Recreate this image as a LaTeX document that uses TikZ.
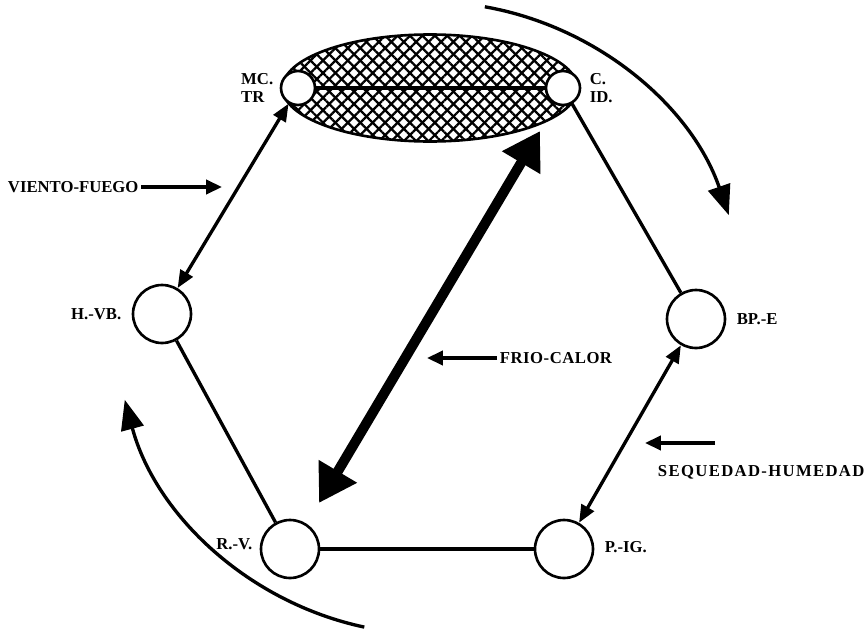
\documentclass[tikz,border=0pt]{standalone}
\usepackage{fontspec}
\setmainfont{Liberation Serif}
\usetikzlibrary{arrows.meta,positioning,shapes.geometric,patterns.meta}

\tikzset{
    station/.style={circle, draw, fill=white, line width=1.5pt, minimum size=1.16cm, inner sep=0pt},
    small station/.style={station, minimum size=0.68cm},
    lbl/.style={font=\bfseries\fontsize{9.5}{9.8}\selectfont, inner sep=1.5pt},
    bond/.style={line width=1.9pt},
    strong bond/.style={line width=2.8pt},
    link/.style={line width=1.9pt, {Triangle[length=10pt,width=8pt]}-{Triangle[length=10pt,width=8pt]}},
    pointer/.style={line width=1.9pt, -{Triangle[length=9pt,width=8pt]}},
    cycle arrow/.style={line width=1.9pt, -{Triangle[length=17pt,width=13pt]}},
    axis arrow/.style={line width=5.7pt, {Triangle[length=21pt,width=24pt]}-{Triangle[length=21pt,width=24pt]}},
    lens/.style={ellipse, draw, line width=1.5pt, minimum width=5.9cm, minimum height=2.14cm,
        preaction={pattern={Lines[angle=45,distance=5pt,line width=1.3pt]}},
        pattern={Lines[angle=-45,distance=5pt,line width=1.3pt]}}
}

\begin{document}
\begin{tikzpicture}[x=0.02cm, y=-0.02cm, line join=round]
            \useasboundingbox (0,0) rectangle (866,632);

            % ==== HATCHED ZONE ====
            \node[lens] (zone) at (430,88) {};

            % ==== STATIONS ====
            \node[small station] (mctr) at (298,88) {};
            \node[small station] (cid) at (563,88) {};
            \node[station] (hvb) at (162,314) {};
            \node[station] (bpe) at (696,319) {};
            \node[station] (rv) at (290,549) {};
            \node[station] (pig) at (564,549) {};
            \coordinate (hub) at (430,318);

            % ==== STATION LABELS ====
            \node[lbl, align=left, left=0.07cm of mctr] (mctrlbl) {MC.\\TR};
            \node[lbl, align=left, right=0.11cm of cid] (cidlbl) {C.\\ID.};
            \node[lbl, left=0.15cm of hvb] (hvblbl) {H.-VB.};
            \node[lbl, right=0.15cm of bpe] (bpelbl) {BP.-E};
            \node[lbl, left=0.09cm of rv, yshift=3pt] (rvlbl) {R.-V.};
            \node[lbl, right=0.15cm of pig, yshift=1pt] (piglbl) {P.-IG.};

            % ==== SIDES ====
            \draw[strong bond] (mctr) -- (cid);
            \draw[bond] (cid) -- (bpe);
            \draw[bond] (hvb) -- (rv);
            \draw[strong bond] (rv) -- (pig);
            \draw[link] (mctr) -- (hvb);
            \draw[link] (bpe) -- (pig);

            % ==== FRIO-CALOR AXIS ====
            \coordinate (cold) at (319,503);
            \coordinate (hot) at (540,131);
            \draw[axis arrow] (cold) -- (hot);

            % ==== CYCLE ARROWS ====
            \draw[cycle arrow] ([shift={(-80:316)}]hub) arc[start angle=-80, end angle=-19, radius=316];
            \draw[cycle arrow] ([shift={(102:316)}]hub) arc[start angle=102, end angle=165, radius=316];

            % ==== QUALITY LABELS ====
            \node[lbl, anchor=west] (vf) at (5,187) {VIENTO-FUEGO};
            \coordinate (vftip) at (222,187);
            \draw[pointer] (vf) -- (vftip);

            \node[lbl, anchor=west] (fc) at (497,358) {\addfontfeatures{LetterSpace=3}FRIO-CALOR};
            \coordinate (fctip) at (427,358);
            \draw[pointer] (fc) -- (fctip);

            \node[lbl, anchor=west] (sh) at (655,472) {\addfontfeatures{LetterSpace=8}SEQUEDAD-HUMEDAD};
            \coordinate (shtail) at (715,443);
            \coordinate (shtip) at (645,443);
            \draw[pointer] (shtail) -- (shtip);
\end{tikzpicture}
\end{document}
